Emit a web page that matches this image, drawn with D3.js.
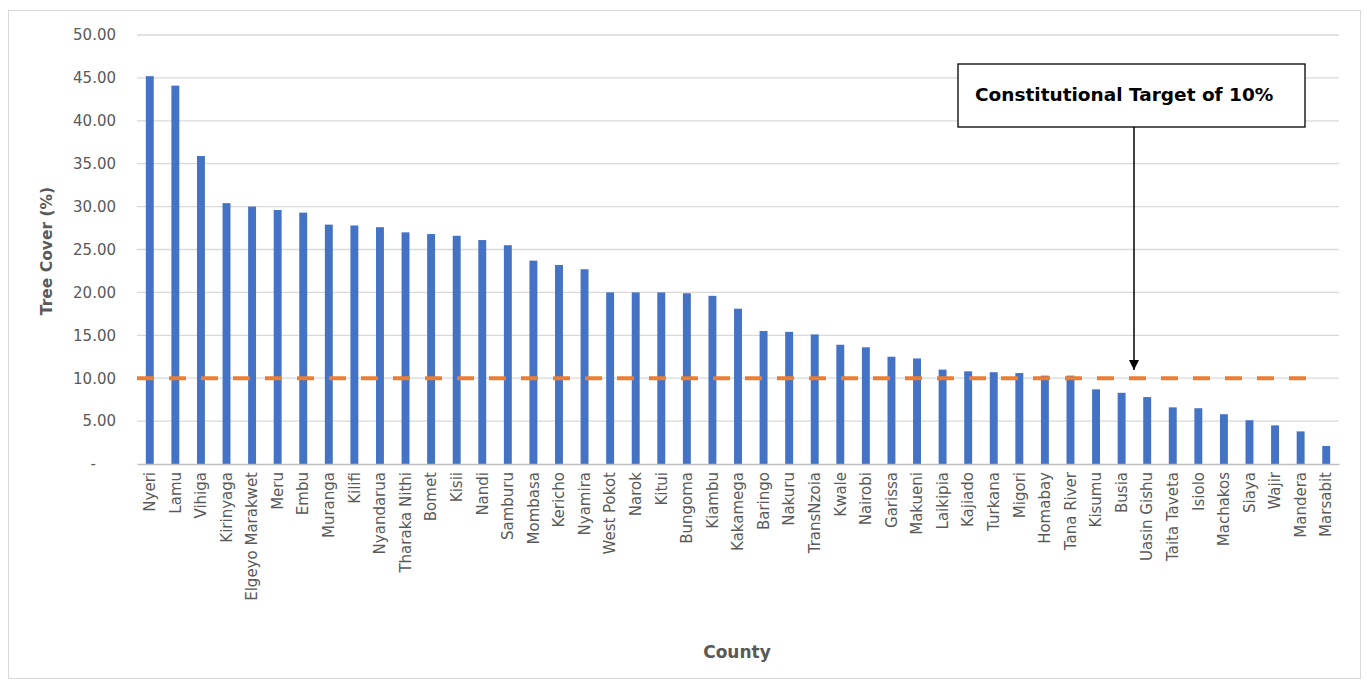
<!DOCTYPE html>
<html>
<head>
<meta charset="utf-8">
<script src="https://cdnjs.cloudflare.com/ajax/libs/d3/7.8.5/d3.min.js"></script>
<style>
  body { margin: 0; background: #fff; }
  text { font-family: "DejaVu Sans", "Noto Sans", sans-serif; }
</style>
</head>
<body>
<script>
// counties, sorted by tree cover
var counties = ["Nyeri","Lamu","Vihiga","Kirinyaga","Elgeyo Marakwet","Meru","Embu","Muranga","Kilifi",
  "Nyandarua","Tharaka Nithi","Bomet","Kisii","Nandi","Samburu","Mombasa","Kericho","Nyamira",
  "West Pokot","Narok","Kitui","Bungoma","Kiambu","Kakamega","Baringo","Nakuru","TransNzoia",
  "Kwale","Nairobi","Garissa","Makueni","Laikipia","Kajiado","Turkana","Migori","Homabay",
  "Tana River","Kisumu","Busia","Uasin Gishu","Taita Taveta","Isiolo","Machakos","Siaya",
  "Wajir","Mandera","Marsabit"];
var treeCover = [45.2,44.1,35.9,30.4,30.0,29.6,29.3,27.9,27.8,
  27.6,27.0,26.8,26.6,26.1,25.5,23.7,23.2,22.7,
  20.0,20.0,20.0,19.9,19.6,18.1,15.5,15.4,15.1,
  13.9,13.6,12.5,12.3,11.0,10.8,10.7,10.6,10.3,
  10.3,8.7,8.3,7.8,6.6,6.5,5.8,5.1,
  4.5,3.8,2.1];
var target = 10;
var yTicks = [0,5,10,15,20,25,30,35,40,45,50];

var w = 1367, h = 681;
var svg = d3.select("body").append("svg").attr("width", w).attr("height", h);

// outer frame
svg.append("rect").attr("x", 8.5).attr("y", 10.5).attr("width", 1352).attr("height", 668)
   .attr("fill", "none").attr("stroke", "#d9d9d9");

var x = d3.scaleBand().domain(counties).range([137, 1339]).paddingInner(0.69).paddingOuter(0.345);
var y = d3.scaleLinear().domain([0, 50]).range([464, 35]);

// gridlines
svg.selectAll(".grid").data(yTicks.slice(1)).enter().append("line")
   .attr("x1", 137).attr("x2", 1339)
   .attr("y1", function(d) { return y(d); }).attr("y2", function(d) { return y(d); })
   .attr("stroke", "#d9d9d9").attr("stroke-width", 1.3);

// y axis labels
var yAxis = d3.axisLeft(y).tickValues(yTicks).tickSize(0).tickPadding(0)
   .tickFormat(function(d) { return d === 0 ? "-" : d3.format(".2f")(d); });
var ya = svg.append("g").attr("transform", "translate(116,0)").call(yAxis);
ya.select(".domain").remove();
ya.selectAll("text").attr("fill", "#595959").style("font-size", "15px")
  .attr("dx", function(d) { return d === 0 ? "-20px" : 0; });

// bars
svg.selectAll(".bar").data(treeCover).enter().append("rect")
   .attr("x", function(d, i) { return x(counties[i]); })
   .attr("y", function(d) { return y(d); })
   .attr("width", x.bandwidth())
   .attr("height", function(d) { return y(0) - y(d); })
   .attr("fill", "#4472c4");

// x axis
var xAxis = d3.axisBottom(x).tickSize(0).tickPadding(0);
var xa = svg.append("g").attr("transform", "translate(0," + y(0) + ")").call(xAxis);
xa.select(".domain").attr("stroke", "#bfbfbf").attr("stroke-width", 1.3);
xa.selectAll("text").attr("fill", "#595959").style("font-size", "15px")
  .attr("transform", "rotate(-90)").attr("text-anchor", "end")
  .attr("x", -8).attr("y", 0).attr("dy", "0.35em");

// target line
svg.append("line").attr("x1", 137).attr("x2", 1312)
   .attr("y1", y(target)).attr("y2", y(target))
   .attr("stroke", "#ed7d31").attr("stroke-width", 4)
   .attr("stroke-dasharray", "17,15");

// axis titles
svg.append("text").attr("transform", "translate(52,251) rotate(-90)")
   .attr("text-anchor", "middle").attr("fill", "#595959")
   .style("font-size", "15.5px").style("font-weight", "bold").text("Tree Cover (%)");
svg.append("text").attr("x", 737).attr("y", 658).attr("text-anchor", "middle")
   .attr("fill", "#595959").style("font-size", "17px").style("font-weight", "bold").text("County");

// annotation
svg.append("defs").append("marker").attr("id", "arr").attr("viewBox", "0 0 10 10")
   .attr("refX", 10).attr("refY", 5).attr("markerWidth", 7).attr("markerHeight", 7)
   .attr("markerUnits", "strokeWidth").attr("orient", "auto")
   .append("path").attr("d", "M0,0L10,5L0,10z").attr("fill", "#000");
svg.append("line").attr("x1", 1134).attr("x2", 1134).attr("y1", 127).attr("y2", 370)
   .attr("stroke", "#000").attr("stroke-width", 1.5).attr("marker-end", "url(#arr)");
svg.append("rect").attr("x", 958).attr("y", 64).attr("width", 347).attr("height", 63)
   .attr("fill", "#fff").attr("stroke", "#000").attr("stroke-width", 1.3);
svg.append("text").attr("x", 975).attr("y", 101).attr("fill", "#000")
   .style("font-size", "18.5px").style("font-weight", "bold").text("Constitutional Target of 10%");
</script>
</body>
</html>
